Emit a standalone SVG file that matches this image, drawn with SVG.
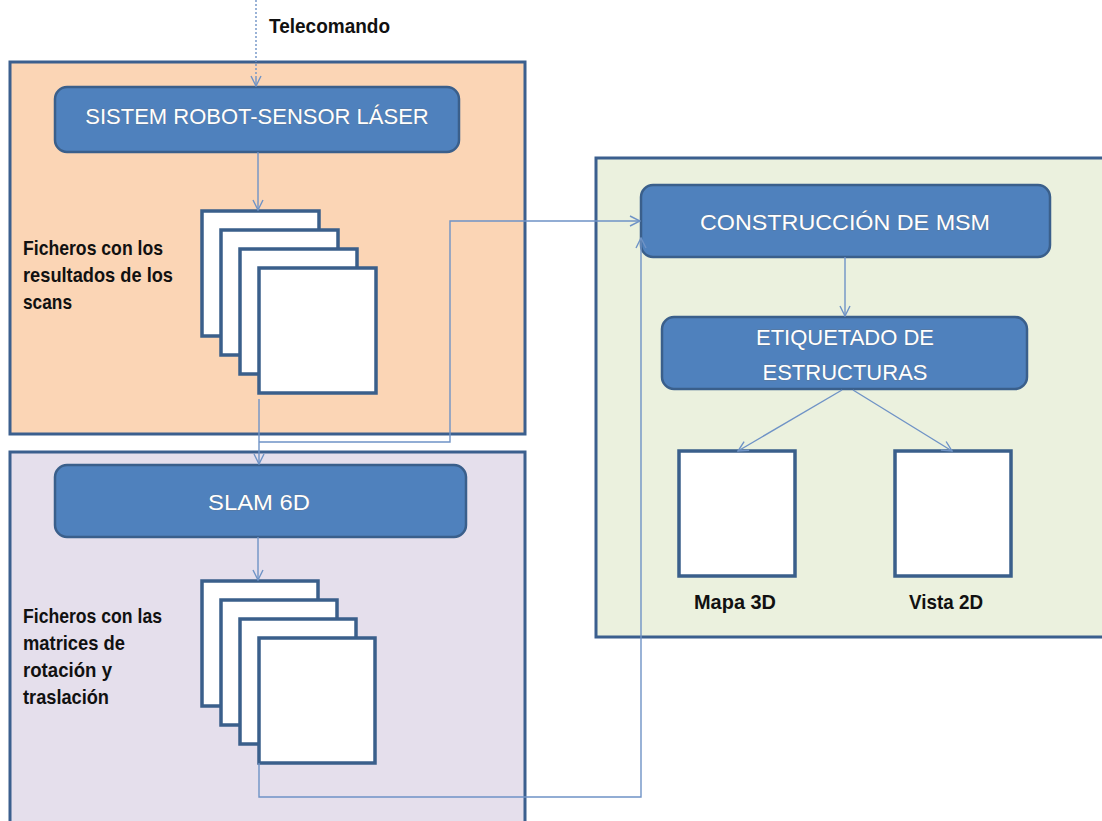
<svg xmlns="http://www.w3.org/2000/svg" width="1102" height="821" viewBox="0 0 1102 821">
<style>
.cont{stroke:#3B5F8E;stroke-width:3}
.blue{fill:#4F81BD;stroke:#3A5F8B;stroke-width:2.5}
.bt{font-family:"Liberation Sans",Arial,sans-serif;font-size:22px;fill:#FFFFFF;text-anchor:middle;stroke:#6a6a6a;stroke-width:0.4;paint-order:stroke}
.sheet{fill:#FFFFFF;stroke:#3A5F8B;stroke-width:3.5}
.lbl{font-family:"Liberation Sans Narrow","Liberation Sans",Arial,sans-serif;font-weight:bold;font-size:21px;fill:#111111}
.con{fill:none;stroke:#6F93C6;stroke-width:1.4}
</style>
<defs>
<marker id="arr" viewBox="0 0 12 12" refX="11" refY="6" markerWidth="12" markerHeight="12" markerUnits="userSpaceOnUse" orient="auto">
<path d="M1,1 L11,6 L1,11" fill="none" stroke="#6F93C6" stroke-width="1.4"/>
</marker>
</defs>
<rect width="1102" height="821" fill="#FFFFFF"/>

<g id="grupo-adquisicion">
<rect class="cont" x="10" y="62" width="515" height="372" fill="#FBD5B5"/>
</g>
<g id="grupo-slam">
<rect class="cont" x="10" y="452" width="515" height="380" fill="#E5DFEC"/>
</g>
<g id="grupo-msm">
<rect class="cont" x="596" y="158" width="512" height="479" fill="#EBF1DE"/>
</g>

<g id="telecomando">
<text class="lbl" x="269" y="33" textLength="121" lengthAdjust="spacingAndGlyphs">Telecomando</text>
</g>

<g id="sistem">
<rect class="blue" x="55" y="87" width="404" height="65" rx="12"/>
<text class="bt" x="257" y="124">SISTEM ROBOT-SENSOR LÁSER</text>
</g>

<g id="ficheros-scans">
<rect class="sheet" x="202" y="211" width="117" height="125"/>
<rect class="sheet" x="221" y="230" width="117" height="125"/>
<rect class="sheet" x="240" y="249" width="117" height="125"/>
<rect class="sheet" x="259" y="268" width="117" height="125"/>
<text class="lbl" x="23" y="255" textLength="140" lengthAdjust="spacingAndGlyphs">Ficheros con los</text>
<text class="lbl" x="23" y="282" textLength="150" lengthAdjust="spacingAndGlyphs">resultados de los</text>
<text class="lbl" x="23" y="309" textLength="49" lengthAdjust="spacingAndGlyphs">scans</text>
</g>

<g id="slam">
<rect class="blue" x="55" y="465" width="411" height="72" rx="12"/>
<text class="bt" x="259" y="510" textLength="102" lengthAdjust="spacingAndGlyphs">SLAM 6D</text>
</g>

<g id="ficheros-matrices">
<rect class="sheet" x="202" y="581" width="116" height="125"/>
<rect class="sheet" x="221" y="600" width="116" height="125"/>
<rect class="sheet" x="240" y="619" width="116" height="125"/>
<rect class="sheet" x="259" y="638" width="116" height="125"/>
<text class="lbl" x="23" y="623" textLength="139" lengthAdjust="spacingAndGlyphs">Ficheros con las</text>
<text class="lbl" x="23" y="650" textLength="102" lengthAdjust="spacingAndGlyphs">matrices de</text>
<text class="lbl" x="23" y="677" textLength="89" lengthAdjust="spacingAndGlyphs">rotación y</text>
<text class="lbl" x="23" y="704" textLength="86" lengthAdjust="spacingAndGlyphs">traslación</text>
</g>

<g id="construccion">
<rect class="blue" x="641" y="185" width="409" height="72" rx="12"/>
<text class="bt" x="845" y="230" textLength="290" lengthAdjust="spacingAndGlyphs">CONSTRUCCIÓN DE MSM</text>
</g>

<g id="etiquetado">
<rect class="blue" x="662" y="317" width="365" height="72" rx="12"/>
<text class="bt" x="845" y="345">ETIQUETADO DE</text>
<text class="bt" x="845" y="380">ESTRUCTURAS</text>
</g>

<g id="mapa3d">
<rect class="sheet" x="679" y="451" width="116" height="125"/>
<text class="lbl" x="735" y="609" text-anchor="middle" textLength="82" lengthAdjust="spacingAndGlyphs">Mapa 3D</text>
</g>

<g id="vista2d">
<rect class="sheet" x="895" y="451" width="116" height="125"/>
<text class="lbl" x="946" y="609" text-anchor="middle" textLength="74" lengthAdjust="spacingAndGlyphs">Vista 2D</text>
</g>

<g id="conectores">
<path class="con" d="M256,0 L256,78" stroke-dasharray="2,2"/>
<path class="con" d="M256,78 L256,86" marker-end="url(#arr)"/>
<path class="con" d="M258,152 L258,210" marker-end="url(#arr)"/>
<path class="con" d="M259,399 L259,464" marker-end="url(#arr)"/>
<path class="con" d="M259,442 L450,442 L450,221 L640,221" marker-end="url(#arr)"/>
<path class="con" d="M258,537 L258,580" marker-end="url(#arr)"/>
<path class="con" d="M259,763 L259,797 L641,797 L641,238" marker-end="url(#arr)"/>
<path class="con" d="M845,257 L845,316" marker-end="url(#arr)"/>
<path class="con" d="M842,390 L738,451" marker-end="url(#arr)"/>
<path class="con" d="M853,390 L952,451" marker-end="url(#arr)"/>
</g>
</svg>
